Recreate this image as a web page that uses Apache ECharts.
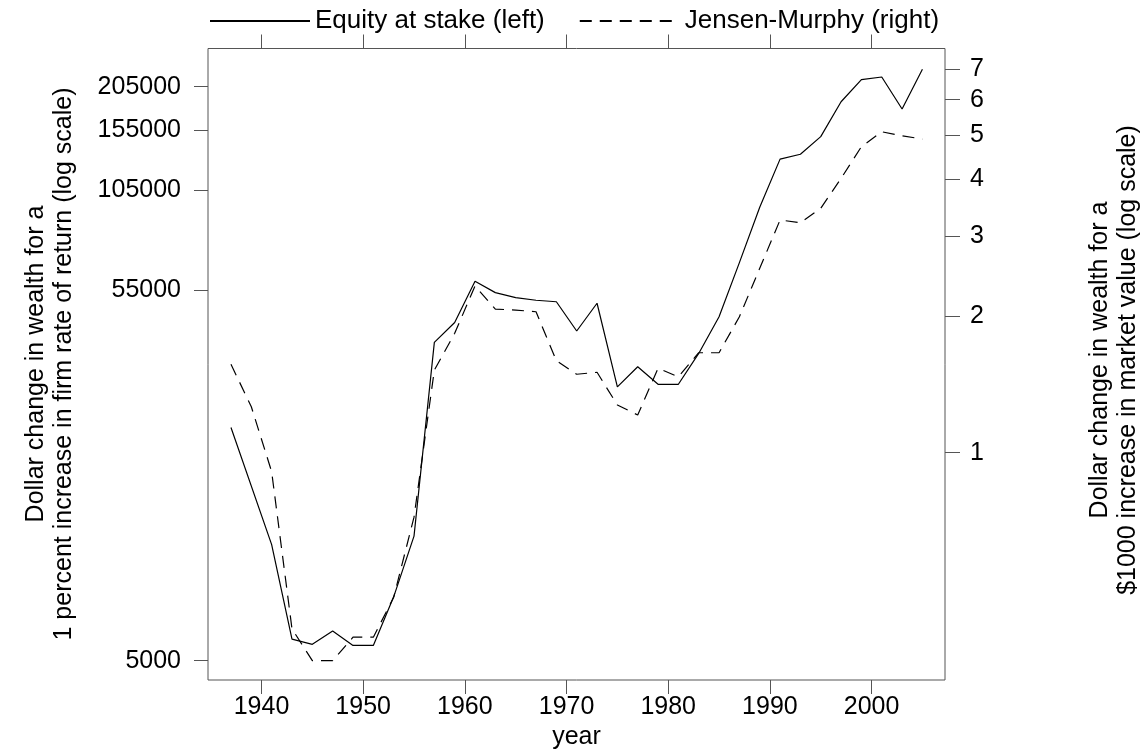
<!DOCTYPE html>
<html>
<head>
<meta charset="utf-8">
<script src="https://cdn.jsdelivr.net/npm/echarts@6/dist/echarts.min.js"></script>
<style>
  html, body { margin: 0; padding: 0; background: #fff; overflow: hidden; }
  #chart { width: 1148px; height: 749px; }
</style>
</head>
<body>
<div id="chart"></div>
<script>
// Equity at stake (left axis, log scale) -- no point read at 1939
var equityYears = [1937, 1941, 1943, 1945, 1947, 1949, 1951, 1953, 1955, 1957,
  1959, 1961, 1963, 1965, 1967, 1969, 1971, 1973, 1975, 1977,
  1979, 1981, 1983, 1985, 1987, 1989, 1991, 1993, 1995, 1997,
  1999, 2001, 2003, 2005];
var equity = [22600, 10600, 5750, 5560, 6060, 5520, 5520, 7560, 11200, 39200,
  44600, 58200, 54100, 52400, 51500, 51000, 42200, 50500, 29400, 33500,
  29900, 29900, 36500, 46300, 65700, 94000, 128300, 132400, 148400, 186000,
  214500, 218300, 177500, 229400];

// Jensen-Murphy (right axis, log scale)
var jmYears = [1937, 1939, 1941, 1943, 1945, 1947, 1949, 1951, 1953, 1955,
  1957, 1959, 1961, 1963, 1965, 1967, 1969, 1971, 1973, 1975,
  1977, 1979, 1981, 1983, 1985, 1987, 1989, 1991, 1993, 1995,
  1997, 1999, 2001, 2003, 2005];
var jm = [1.566, 1.263, 0.908, 0.409, 0.348, 0.348, 0.392, 0.392, 0.48, 0.721,
  1.521, 1.833, 2.331, 2.073, 2.063, 2.045, 1.595, 1.489, 1.504, 1.274,
  1.211, 1.535, 1.470, 1.661, 1.661, 1.994, 2.55, 3.258, 3.213, 3.457,
  4.025, 4.727, 5.099, 4.996, 4.913];

// tick labels
var yearTicks = [1940, 1950, 1960, 1970, 1980, 1990, 2000];
var leftTicks = [5000, 55000, 105000, 155000, 205000];
var rightTicks = [1, 2, 3, 4, 5, 6, 7];

var FONT = 'Liberation Sans, Arial, Helvetica, sans-serif';
var AXIS_COL = '#555';

function pairs(xs, ys) {
  var out = [];
  for (var i = 0; i < xs.length; i++) out.push([xs[i], ys[i]]);
  return out;
}
function plain(v) { return String(Math.round(v)); }

var chart = echarts.init(document.getElementById('chart'));

var option = {
  animation: false,
  backgroundColor: '#fff',
  textStyle: { fontFamily: FONT },
  legend: {
    left: 204,
    top: 3,
    itemWidth: 100,
    itemHeight: 28,
    itemGap: 34,
    itemStyle: { opacity: 0 },
    textStyle: { fontSize: 26, color: '#000', fontFamily: FONT },
    data: ['Equity at stake (left)', 'Jensen-Murphy (right)']
  },
  grid: {
    left: 208,
    right: 203,
    top: 48.5,
    bottom: 69,
    outerBoundsMode: 'none',
    containLabel: false,
    show: true,
    borderColor: AXIS_COL,
    borderWidth: 1
  },
  xAxis: [
    {
      type: 'value',
      position: 'bottom',
      min: 1934.74,
      max: 2007.22,
      name: 'year',
      nameLocation: 'middle',
      nameGap: 39,
      nameTextStyle: { fontSize: 25, color: '#000', fontFamily: FONT },
      axisLine: { show: false },
      splitLine: { show: false },
      axisTick: { show: true, inside: false, length: 14, customValues: yearTicks,
        lineStyle: { color: AXIS_COL } },
      axisLabel: { fontSize: 25, color: '#000', margin: 15, customValues: yearTicks,
        fontFamily: FONT, formatter: plain }
    },
    {
      type: 'value',
      position: 'top',
      min: 1934.74,
      max: 2007.22,
      axisLine: { show: false },
      splitLine: { show: false },
      axisTick: { show: true, inside: false, length: 14, customValues: yearTicks,
        lineStyle: { color: AXIS_COL } },
      axisLabel: { show: false }
    }
  ],
  yAxis: [
    {
      type: 'log',
      position: 'left',
      min: 4414,
      max: 262460,
      axisLine: { show: false },
      splitLine: { show: false },
      axisTick: { show: true, inside: false, length: 14, customValues: leftTicks,
        lineStyle: { color: AXIS_COL } },
      axisLabel: {
        fontSize: 25, color: '#000', margin: 27, customValues: leftTicks, fontFamily: FONT,
        formatter: plain
      }
    },
    {
      type: 'log',
      position: 'right',
      min: 0.3155,
      max: 7.78,
      axisLine: { show: false },
      splitLine: { show: false },
      axisTick: { show: true, inside: false, length: 15, customValues: rightTicks,
        lineStyle: { color: AXIS_COL } },
      axisLabel: {
        fontSize: 25, color: '#000', margin: 25, customValues: rightTicks, fontFamily: FONT,
        formatter: plain
      }
    }
  ],
  graphic: [
    {
      type: 'text',
      x: 50,
      y: 364,
      rotation: Math.PI / 2,
      style: {
        text: 'Dollar change in wealth for a\n1 percent increase in firm rate of return (log scale)',
        font: '25px ' + FONT,
        fill: '#000',
        align: 'center',
        verticalAlign: 'middle',
        lineHeight: 28
      }
    },
    {
      type: 'text',
      x: 1114,
      y: 360,
      rotation: Math.PI / 2,
      style: {
        text: 'Dollar change in wealth for a\n$1000 increase in market value (log scale)',
        font: '25px ' + FONT,
        fill: '#000',
        align: 'center',
        verticalAlign: 'middle',
        lineHeight: 28
      }
    }
  ],
  series: [
    {
      name: 'Equity at stake (left)',
      type: 'line',
      xAxisIndex: 0,
      yAxisIndex: 0,
      symbol: 'none',
      lineStyle: { color: '#000', width: 1.2, type: 'solid' },
      itemStyle: { color: '#000' },
      data: pairs(equityYears, equity)
    },
    {
      name: 'Jensen-Murphy (right)',
      type: 'line',
      xAxisIndex: 0,
      yAxisIndex: 1,
      symbol: 'none',
      lineStyle: { color: '#000', width: 1.2, type: [12, 8] },
      itemStyle: { color: '#000' },
      data: pairs(jmYears, jm)
    }
  ]
};

chart.setOption(option);
</script>
</body>
</html>
